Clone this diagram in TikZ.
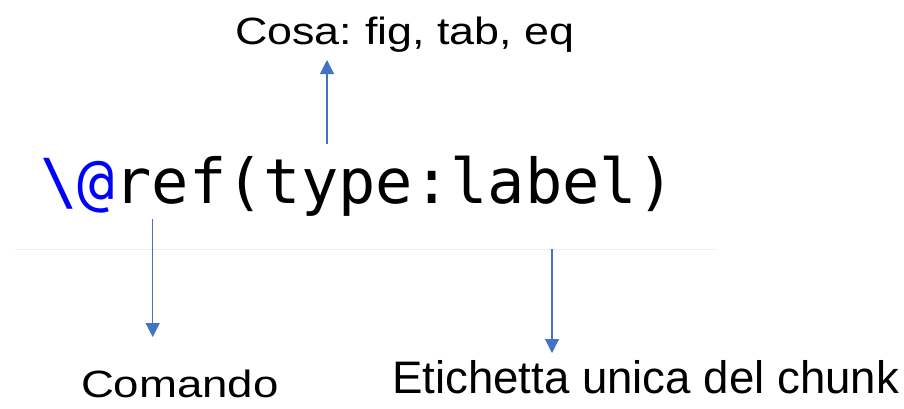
\documentclass[tikz,border=0pt]{standalone}
\usepackage{fontspec}
\usepackage{graphicx}
\setmainfont{Liberation Sans}
\newfontfamily\codefont{DejaVu Sans Mono}
\usetikzlibrary{arrows.meta}
\definecolor{arrowblue}{HTML}{4472C4}
\definecolor{codeblue}{HTML}{0000FF}
\definecolor{rulegray}{HTML}{EEEEEE}
\tikzset{
  lbl/.style={anchor=base west, inner sep=0pt, outer sep=0pt},
  conn/.style={draw=arrowblue, line width=1.1pt, -{Triangle[width=14pt,length=14pt]}, arrowblue},
}
\begin{document}
\begin{tikzpicture}[x=1pt,y=-1pt]
\useasboundingbox (0,0) rectangle (904,408);
\draw[rulegray, line width=1pt] (15,249) coordinate (r1) -- (717,249) coordinate (r2);
\node[lbl] (code) at (40,203) {\fontsize{62}{70}\selectfont\codefont\textcolor{codeblue}{\textbackslash@}ref(type:label)};
\node[lbl] (cosa) at (235,44) {\scalebox{1.18}[1]{\fontsize{38}{44}\selectfont Cosa:\kern-3pt{} fig, tab, eq}};
\node[lbl] (comando) at (81,397) {\scalebox{1.2}[1]{\fontsize{38}{44}\selectfont Comando}};
\node[lbl] (etich) at (392,393) {\fontsize{45.6}{52}\selectfont Etichetta unica del chunk};
\coordinate (a1s) at (327,144);
\coordinate (a1e) at (327,60);
\coordinate (a2s) at (152.7,219);
\coordinate (a2e) at (152.7,337);
\coordinate (a3s) at (552,249);
\coordinate (a3e) at (552,353);
\draw[conn] (a1s) -- (a1e);
\draw[conn] (a2s) -- (a2e);
\draw[conn] (a3s) -- (a3e);
\end{tikzpicture}
\end{document}
